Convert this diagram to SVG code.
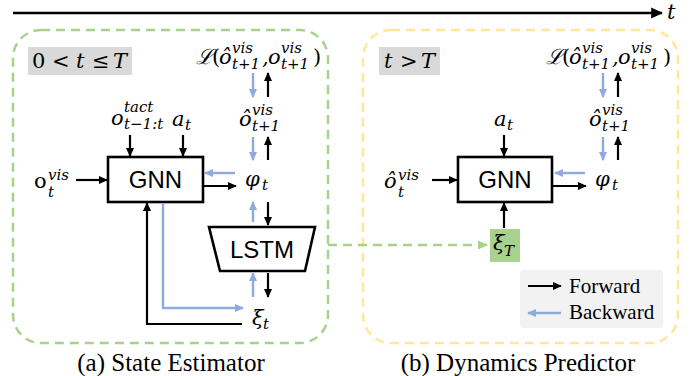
<svg xmlns="http://www.w3.org/2000/svg" width="697" height="376" viewBox="0 0 697 376">
<defs>
<marker id="ak" viewBox="0 0 10 10" refX="9" refY="5" markerWidth="9" markerHeight="9" markerUnits="userSpaceOnUse" orient="auto"><path d="M0,0.5 L10,5 L0,9.5 z" fill="#000"/></marker>
<marker id="abl" viewBox="0 0 10 10" refX="9" refY="5" markerWidth="9" markerHeight="9" markerUnits="userSpaceOnUse" orient="auto"><path d="M0,0.5 L10,5 L0,9.5 z" fill="#8faadc"/></marker>
<marker id="agr" viewBox="0 0 10 10" refX="9" refY="5" markerWidth="10" markerHeight="10" markerUnits="userSpaceOnUse" orient="auto"><path d="M0,0.5 L10,5 L0,9.5 z" fill="#a9d18e"/></marker>
<marker id="aax" viewBox="0 0 10 10" refX="9" refY="5" markerWidth="12" markerHeight="12" markerUnits="userSpaceOnUse" orient="auto"><path d="M0,0.5 L10,5 L0,9.5 z" fill="#000"/></marker>
</defs>
<style>
.k{stroke:#000;stroke-width:2.2;fill:none;marker-end:url(#ak)}
.b{stroke:#8faadc;stroke-width:2.4;fill:none;marker-end:url(#abl)}
.box{fill:#fff;stroke:#000;stroke-width:2.6}
.pan{fill:none;stroke-width:2.5;stroke-dasharray:9 6}
.lab{fill:#d9d9d9}
.nn{font-family:"Liberation Sans",Arial,sans-serif;font-size:24px;text-anchor:middle;fill:#000}
.m{font-family:"DejaVu Serif","Liberation Serif",serif;font-style:italic;font-size:21px;fill:#000}
.s{font-family:"DejaVu Serif","Liberation Serif",serif;font-style:italic;font-size:15px;fill:#000}
.u{font-family:"DejaVu Serif","Liberation Serif",serif;font-size:21px;fill:#000}
.cap{font-family:"Liberation Serif","Times New Roman",serif;font-size:25px;text-anchor:middle;fill:#000}
.lg{font-family:"Liberation Serif","Times New Roman",serif;font-size:21px;fill:#000}
</style>

<g id="time-axis">
<line x1="13" y1="13" x2="662" y2="13" stroke="#000" stroke-width="2.5" marker-end="url(#aax)"/>
<text x="667" y="19" class="m" font-size="19">t</text>
</g>

<g id="panel-a">
<rect x="13" y="30" width="315" height="313" rx="28" class="pan" stroke="#a9d18e"/>
<rect x="28" y="47" width="104" height="28" class="lab"/>
<text y="68" class="u"><tspan x="32">0</tspan><tspan x="52">&lt;</tspan><tspan x="76" font-style="italic">t</tspan><tspan x="92">≤</tspan><tspan x="113" font-style="italic">T</tspan></text>
<text x="171" y="371" class="cap">(a) State Estimator</text>
</g>

<g id="panel-b">
<rect x="363" y="30" width="315" height="313" rx="28" class="pan" stroke="#ffe699"/>
<rect x="379" y="47" width="61" height="28" class="lab"/>
<text y="68" class="u"><tspan x="384" font-style="italic">t</tspan><tspan x="400">&gt;</tspan><tspan x="421" font-style="italic">T</tspan></text>
<text x="518" y="371" class="cap">(b) Dynamics Predictor</text>
</g>

<g id="gnn-a">
<rect x="108" y="157" width="95" height="45" class="box"/>
<text x="155.5" y="188" class="nn">GNN</text>
</g>

<g id="lstm">
<polygon points="209,227 315,227 305,271 220,271" class="box"/>
<text x="262" y="258" class="nn" font-size="25">LSTM</text>
</g>

<g id="o-vis-a">
<text x="34" y="188" class="u">o</text>
<text x="48" y="180" class="s">vis</text>
<text x="48" y="197" class="s">t</text>
</g>

<g id="o-tact">
<text x="111" y="125" class="m">o</text>
<text x="124" y="112" class="s">tact</text>
<text x="124" y="129" class="s">t−1:t</text>
</g>

<g id="a-t-a">
<text x="172" y="126" class="m">a</text>
<text x="185" y="130" class="s">t</text>
</g>

<g id="phi-a">
<text x="245" y="186" class="m">φ</text>
<text x="262" y="190" class="s">t</text>
</g>

<g id="o-hat-a">
<text x="239" y="126" class="m">ô</text>
<text x="252" y="115" class="s">vis</text>
<text x="252" y="131" class="s">t+1</text>
</g>

<g id="loss-a">
<text x="196" y="64" class="m">ℒ</text>
<text x="212" y="64" class="u">(</text>
<text x="219" y="64" class="m">ô</text>
<text x="232" y="53" class="s">vis</text>
<text x="232" y="69" class="s">t+1</text>
<text x="262" y="64" class="m">,</text>
<text x="268" y="64" class="m">o</text>
<text x="281" y="53" class="s">vis</text>
<text x="281" y="69" class="s">t+1</text>
<text x="313" y="64" class="u">)</text>
</g>

<g id="xi-t">
<text x="252" y="325" class="m">ξ</text>
<text x="263" y="329" class="s">t</text>
</g>

<g id="gnn-b">
<rect x="458" y="157" width="94" height="45" class="box"/>
<text x="505" y="188" class="nn">GNN</text>
</g>

<g id="o-hat-vis-b">
<text x="384" y="188" class="m">ô</text>
<text x="398" y="180" class="s">vis</text>
<text x="398" y="197" class="s">t</text>
</g>

<g id="a-t-b">
<text x="494" y="126" class="m">a</text>
<text x="507" y="130" class="s">t</text>
</g>

<g id="xi-T">
<rect x="490" y="229" width="30" height="33" fill="#a9d18e"/>
<text x="493" y="250" class="m">ξ</text>
<text x="504" y="256" class="s">T</text>
</g>

<g id="phi-b">
<text x="595" y="186" class="m">φ</text>
<text x="612" y="190" class="s">t</text>
</g>

<g id="o-hat-b">
<text x="589" y="126" class="m">ô</text>
<text x="602" y="115" class="s">vis</text>
<text x="602" y="131" class="s">t+1</text>
</g>

<g id="loss-b">
<text x="546" y="64" class="m">ℒ</text>
<text x="562" y="64" class="u">(</text>
<text x="569" y="64" class="m">ô</text>
<text x="582" y="53" class="s">vis</text>
<text x="582" y="69" class="s">t+1</text>
<text x="612" y="64" class="m">,</text>
<text x="618" y="64" class="m">o</text>
<text x="631" y="53" class="s">vis</text>
<text x="631" y="69" class="s">t+1</text>
<text x="663" y="64" class="u">)</text>
</g>

<g id="legend">
<rect x="520" y="270" width="143" height="58" rx="3" fill="#f2f2f2"/>
<line x1="528" y1="286" x2="561" y2="286" class="k"/>
<text x="569" y="293" class="lg">Forward</text>
<line x1="561" y1="313" x2="528" y2="313" class="b"/>
<text x="569" y="319" class="lg">Backward</text>
</g>

<g id="connectors">
<line x1="76" y1="180" x2="107" y2="180" class="k"/>
<line x1="130" y1="135" x2="130" y2="156" class="k"/>
<line x1="183" y1="135" x2="183" y2="156" class="k"/>
<line x1="235" y1="173" x2="205" y2="173" class="b"/>
<line x1="203" y1="186" x2="236" y2="186" class="k"/>
<line x1="253" y1="73" x2="253" y2="97" class="b"/>
<line x1="268" y1="97" x2="268" y2="73" class="k"/>
<line x1="253" y1="137" x2="253" y2="160" class="b"/>
<line x1="268" y1="160" x2="268" y2="137" class="k"/>
<line x1="253" y1="222" x2="253" y2="202" class="b"/>
<line x1="268" y1="202" x2="268" y2="225" class="k"/>
<line x1="253" y1="297" x2="253" y2="273" class="b"/>
<line x1="268" y1="273" x2="268" y2="297" class="k"/>
<polyline points="163,203 163,308 243,308" class="b"/>
<polyline points="242,324 147,324 147,203" class="k"/>
<line x1="328" y1="245" x2="487" y2="245" stroke="#a9d18e" stroke-width="2.5" stroke-dasharray="9 6" marker-end="url(#agr)"/>
<line x1="432" y1="180" x2="457" y2="180" class="k"/>
<line x1="504" y1="135" x2="504" y2="156" class="k"/>
<line x1="504" y1="228" x2="504" y2="203" class="k"/>
<line x1="585" y1="173" x2="555" y2="173" class="b"/>
<line x1="553" y1="186" x2="586" y2="186" class="k"/>
<line x1="603" y1="73" x2="603" y2="97" class="b"/>
<line x1="618" y1="97" x2="618" y2="73" class="k"/>
<line x1="603" y1="137" x2="603" y2="160" class="b"/>
<line x1="618" y1="160" x2="618" y2="137" class="k"/>
</g>
</svg>
